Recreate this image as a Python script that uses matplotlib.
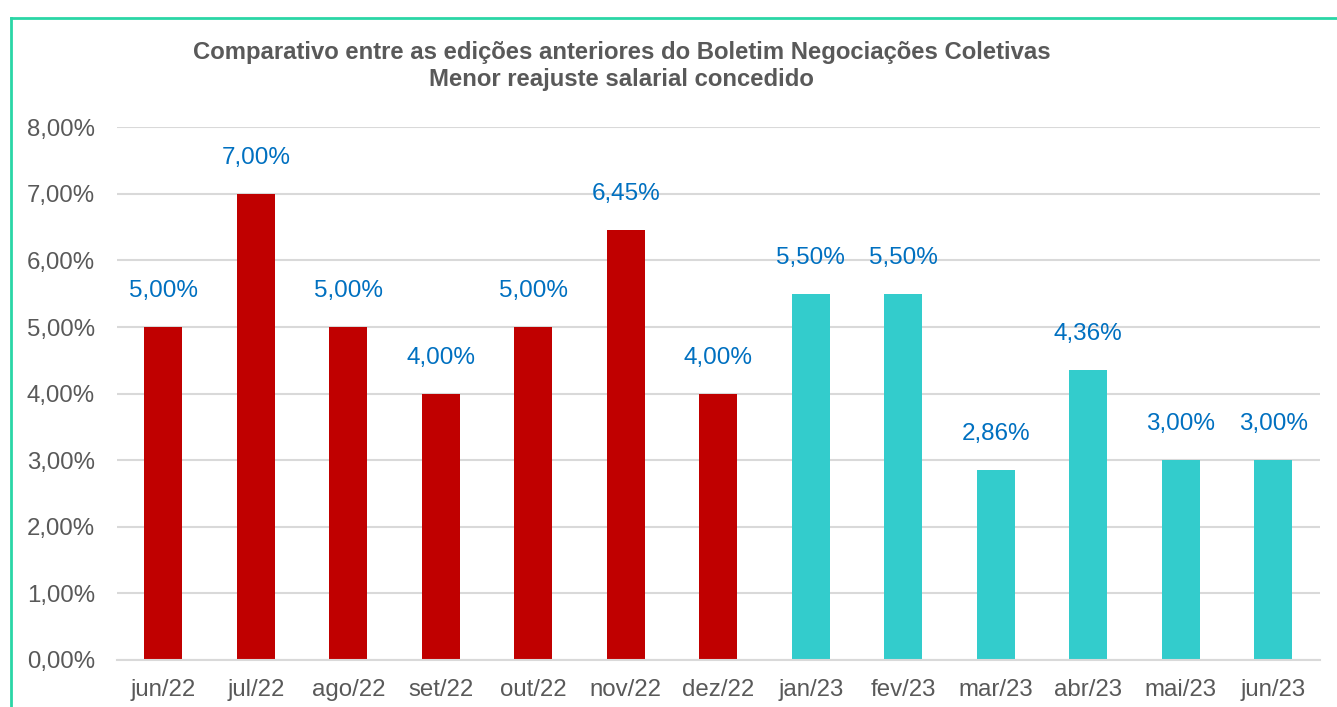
"""
Comparativo do menor reajuste salarial concedido por edição do boletim
"""
import matplotlib
matplotlib.use('Agg')
import matplotlib.pyplot as plt
from matplotlib.lines import Line2D

MESES = ['jun/22', 'jul/22', 'ago/22', 'set/22', 'out/22', 'nov/22', 'dez/22',
         'jan/23', 'fev/23', 'mar/23', 'abr/23', 'mai/23', 'jun/23']
REAJUSTE = [5.00, 7.00, 5.00, 4.00, 5.00, 6.45, 4.00,
            5.50, 5.50, 2.86, 4.36, 3.00, 3.00]
ANO = ['22'] * 7 + ['23'] * 6
Y_TICKS = [0, 1, 2, 3, 4, 5, 6, 7, 8]

COR_ANO = {'22': '#C00000', '23': '#33CCCC'}
CINZA = '#595959'


def fmt(v):
    return f'{v:.2f}'.replace('.', ',') + '%'


plt.rcParams['font.family'] = ['Liberation Sans', 'DejaVu Sans']

fig = plt.figure(figsize=(13.37, 7.07), dpi=100)
ax = fig.add_axes([0.0875, 0.0665, 0.8995, 0.7535])

x = list(range(len(MESES)))
cores = [COR_ANO[a] for a in ANO]
bars = ax.bar(x, REAJUSTE, width=0.41, color=cores, zorder=2)

for b, v in zip(bars, REAJUSTE):
    ax.annotate(fmt(v), (b.get_x() + b.get_width() / 2, v), xytext=(0, 18),
                textcoords='offset points', ha='center', va='bottom',
                fontsize=17.5, color='#0070C0')

ax.set_ylim(0, 8)
ax.set_xlim(-0.5, len(MESES) - 0.5)
ax.set_yticks(Y_TICKS)
ax.set_yticklabels([fmt(t) for t in Y_TICKS])
ax.set_xticks(x)
ax.set_xticklabels(MESES)
ax.tick_params(axis='both', length=0, labelsize=17.3, colors=CINZA)
ax.tick_params(axis='y', pad=16)
ax.tick_params(axis='x', pad=14)
ax.grid(axis='y', color='#D9D9D9', linewidth=1.5, zorder=0)
for s in ('top', 'right', 'left'):
    ax.spines[s].set_visible(False)
ax.spines['bottom'].set_color('#D9D9D9')
ax.spines['bottom'].set_linewidth(1.5)

fig.text(0.465, 0.9065, 'Comparativo entre as edições anteriores do Boletim Negociações Coletivas\n'
         'Menor reajuste salarial concedido', ha='center', va='center',
         fontsize=17.2, fontweight='bold', color=CINZA, linespacing=1.25)

# moldura verde
borda = '#2AD6A6'
fig.add_artist(Line2D([11 / 1337, 11 / 1337], [0, 1 - 18 / 707], color=borda, linewidth=2))
fig.add_artist(Line2D([11 / 1337, 1], [1 - 18 / 707, 1 - 18 / 707], color=borda, linewidth=2))

fig.savefig('out.png', dpi=100)
